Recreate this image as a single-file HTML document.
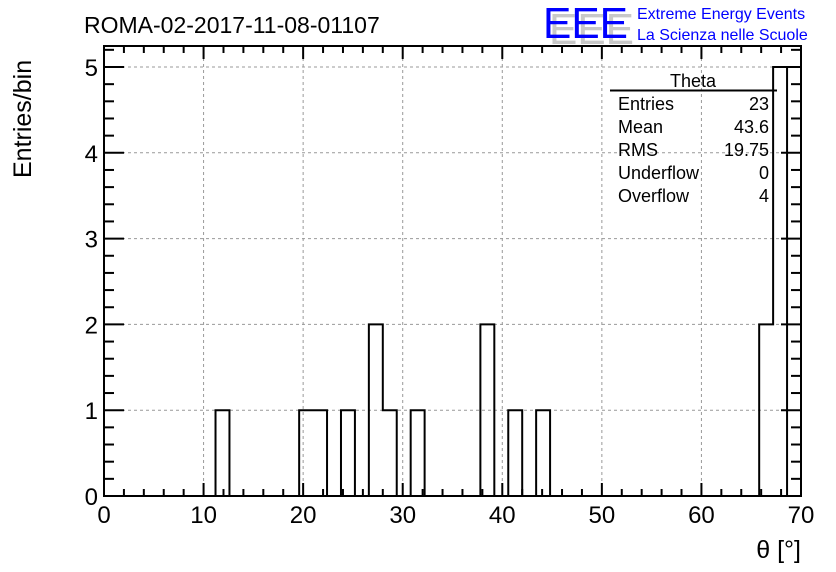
<!DOCTYPE html>
<html><head><meta charset="utf-8"><style>
body{margin:0;background:#fff;}
svg{display:block;font-family:"Liberation Sans",Arial,sans-serif;}
</style></head><body>
<svg id="chart" width="836" height="572" viewBox="0 0 836 572" xmlns="http://www.w3.org/2000/svg">
<text x="84" y="33" font-size="23" fill="#000">ROMA-02-2017-11-08-01107</text>
<g>
<text x="549" y="44" font-size="44" fill="#c8c8c8" textLength="85" lengthAdjust="spacingAndGlyphs">EEE</text>
<text x="543" y="38" font-size="44" fill="#0000ff" textLength="85" lengthAdjust="spacingAndGlyphs">EEE</text>
</g>
<text x="637" y="19" font-size="16" fill="#0000ff">Extreme Energy Events</text>
<text x="637" y="40" font-size="16" fill="#0000ff">La Scienza nelle Scuole</text>
<g id="grid"></g>
<g id="ticks"></g>
<path id="hist" fill="none" stroke="#000" stroke-width="2"/>
<rect x="104" y="46" width="697" height="450" fill="none" stroke="#000" stroke-width="2"/>
<g id="labels"></g>
<text transform="translate(31,178) rotate(-90)" font-size="25" fill="#000">Entries/bin</text>
<text x="801" y="558" text-anchor="end" font-size="25" fill="#000">θ [°]</text>
<g font-size="18" fill="#000">
<text x="693" y="87" text-anchor="middle">Theta</text>
<line x1="610" y1="90.5" x2="777" y2="90.5" stroke="#000" stroke-width="2"/>
<text x="618" y="110">Entries</text><text x="769" y="110" text-anchor="end">23</text>
<text x="618" y="133">Mean</text><text x="769" y="133" text-anchor="end">43.6</text>
<text x="618" y="156">RMS</text><text x="769" y="156" text-anchor="end">19.75</text>
<text x="618" y="179">Underflow</text><text x="769" y="179" text-anchor="end">0</text>
<text x="618" y="202">Overflow</text><text x="769" y="202" text-anchor="end">4</text>
</g>
</svg>
<script>
const binWidth = 1.4;
const counts = [0,0,0,0,0,0,0,0,1,0,0,0,0,0,1,1,0,1,0,2,1,0,1,0,0,0,0,2,0,1,0,1,0,0,0,0,0,0,0,0,0,0,0,0,0,0,0,2,5];
const xTicks = [0,10,20,30,40,50,60,70];
const yTicks = [0,1,2,3,4,5];
const X0=104,X1=801,Y0=496,Y1=67;
const xs = v => X0 + v*(X1-X0)/70;
const ys = v => Y0 - v*(Y0-Y1)/5;
const NS="http://www.w3.org/2000/svg";
function mk(tag, parent){const e=document.createElementNS(NS,tag);document.getElementById(parent).appendChild(e);return e;}
let d=`M${xs(0)},${ys(0)}`;
counts.forEach((c,i)=>{d+=` L${xs(i*binWidth)},${ys(c)} L${xs((i+1)*binWidth)},${ys(c)}`;});
d+=` L${xs(counts.length*binWidth)},${ys(0)}`;
document.getElementById('hist').setAttribute('d',d);
xTicks.slice(1,-1).forEach(t=>{const l=mk('line','grid');


l.setAttribute('x1',xs(t));l.setAttribute('x2',xs(t));l.setAttribute('y1',46);l.setAttribute('y2',Y0);l.setAttribute('stroke','#999');l.setAttribute('stroke-dasharray','3,3');});
yTicks.slice(1).forEach(t=>{const l=mk('line','grid');


l.setAttribute('x1',X0);l.setAttribute('x2',X1);l.setAttribute('y1',ys(t));l.setAttribute('y2',ys(t));l.setAttribute('stroke','#999');l.setAttribute('stroke-dasharray','3,3');});
function tk(x1,y1,x2,y2){const l=mk('line','ticks');


l.setAttribute('x1',x1);l.setAttribute('y1',y1);l.setAttribute('x2',x2);l.setAttribute('y2',y2);l.setAttribute('stroke','#000');l.setAttribute('stroke-width','2');}
for(let v=0;v<=70;v+=2){const L=(v%10===0)?13:7;tk(xs(v),Y0,xs(v),Y0-L);tk(xs(v),46,xs(v),46+L);}
for(let k=0;k<=26;k++){const v=k*0.2;if(ys(v)<46)continue;const L=(k%5===0)?20:10;tk(X0,ys(v),X0+L,ys(v));tk(X1,ys(v),X1-L,ys(v));}
xTicks.forEach(t=>{const e=mk('text','labels');


e.setAttribute('x',xs(t));e.setAttribute('y',523);e.setAttribute('text-anchor','middle');e.setAttribute('font-size','24');e.textContent=t;});
yTicks.forEach(t=>{const e=mk('text','labels');


e.setAttribute('x',98);e.setAttribute('y',ys(t)+9);e.setAttribute('text-anchor','end');e.setAttribute('font-size','24');e.textContent=t;});
</script>
</body></html>
